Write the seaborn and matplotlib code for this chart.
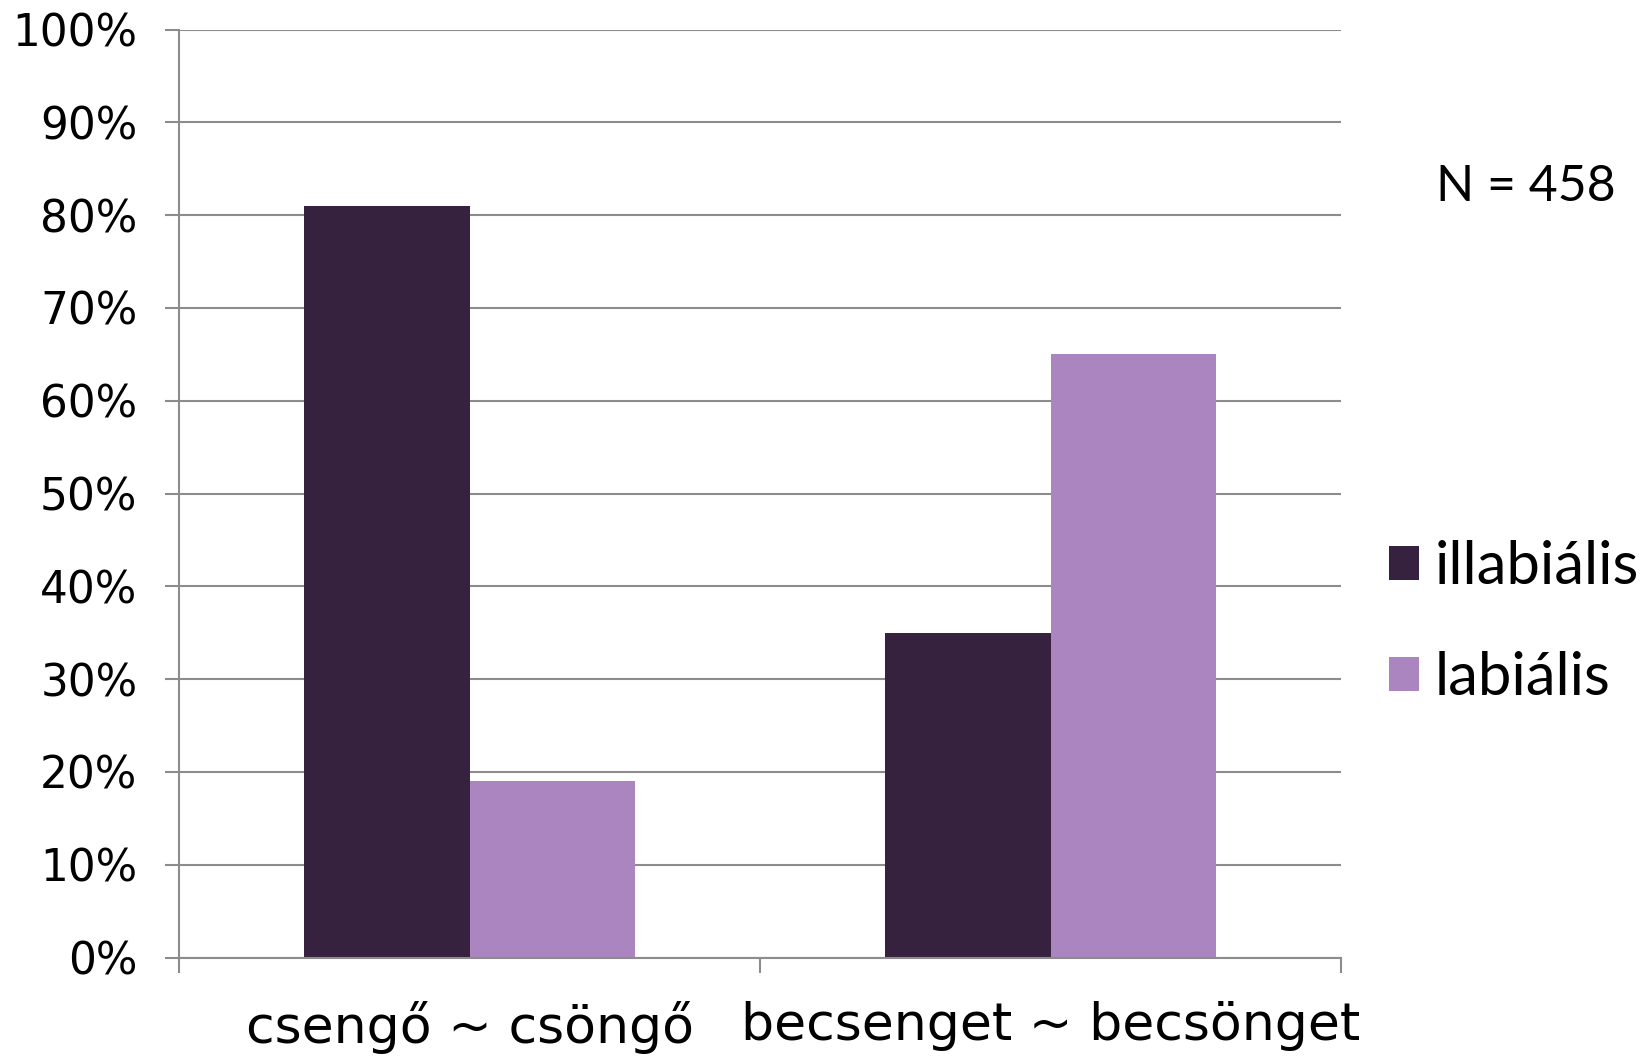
import matplotlib
matplotlib.use("Agg")
import matplotlib.pyplot as plt
import matplotlib.patches as mpatches
import seaborn as sns
import pandas as pd

categories = ["csengő ~ csöngő", "becsenget ~ becsönget"]
series_names = ["illabiális", "labiális"]
illabialis = [81, 35]
labialis = [19, 65]
yticks = [0, 10, 20, 30, 40, 50, 60, 70, 80, 90, 100]
colors = ["#36213F", "#AB85BF"]
note = "N = 458"

rows = []
for c, a, b in zip(categories, illabialis, labialis):
    rows.append({"cat": c, "series": series_names[0], "val": a})
    rows.append({"cat": c, "series": series_names[1], "val": b})
df = pd.DataFrame(rows)

sns.set_theme(style="white")
plt.rcParams['font.family'] = ['DejaVu Sans']
plt.rcParams['text.color'] = 'black'

fig = plt.figure(figsize=(16.48, 10.58), dpi=100)
ax = fig.add_axes([179/1648, 1-957.5/1058, (1341-179)/1648, (957.5-29.5)/1058])

sns.barplot(data=df, x="cat", y="val", hue="series", order=categories,
            hue_order=series_names, palette=colors, width=0.571, gap=0,
            saturation=1, ax=ax, legend=False, linewidth=0)

ax.set_ylim(0, 100)
ax.set_xlim(-0.5, 1.5)
ax.set_yticks(yticks)
ax.set_yticklabels([f"{v}%" for v in yticks], fontsize=31.5)
ax.yaxis.grid(True, color="#8C8C8C", linewidth=1.5)
ax.set_axisbelow(True)
ax.set_xlabel("")
ax.set_ylabel("")

for s in ["top", "right"]:
    ax.spines[s].set_visible(False)
for s in ["left", "bottom"]:
    ax.spines[s].set_color("#8C8C8C")
    ax.spines[s].set_linewidth(1.5)

ax.tick_params(axis="y", which="major", length=10, width=1.5, color="#8C8C8C",
               pad=20, left=True, labelcolor="black")
ax.set_xticks([0, 1])
ax.set_xticklabels(categories, fontsize=37.5)
ax.set_xticks([-0.5, 0.5, 1.5], minor=True)
ax.tick_params(axis="x", which="major", length=0, pad=31, labelcolor="black")
ax.tick_params(axis="x", which="minor", length=11, width=1.5, color="#8C8C8C",
               bottom=True)

handles = [mpatches.Patch(facecolor=c, edgecolor="none") for c in colors]
fig.legend(handles, series_names, loc="upper left",
           bbox_to_anchor=(1389/1648, 1-540/1058), frameon=False,
           handlelength=0.5, handleheight=0.5,
           handletextpad=0.27, labelspacing=0.95, borderaxespad=0,
           borderpad=0, labelcolor="black",
           prop={'family': ['Lato', 'DejaVu Sans'], 'size': 43})

fig.text(1526/1648, 1-187/1058, note, fontsize=36, ha="center", va="center",
         family=['Lato', 'DejaVu Sans'], color="black")

fig.savefig("out.png", dpi=100)
